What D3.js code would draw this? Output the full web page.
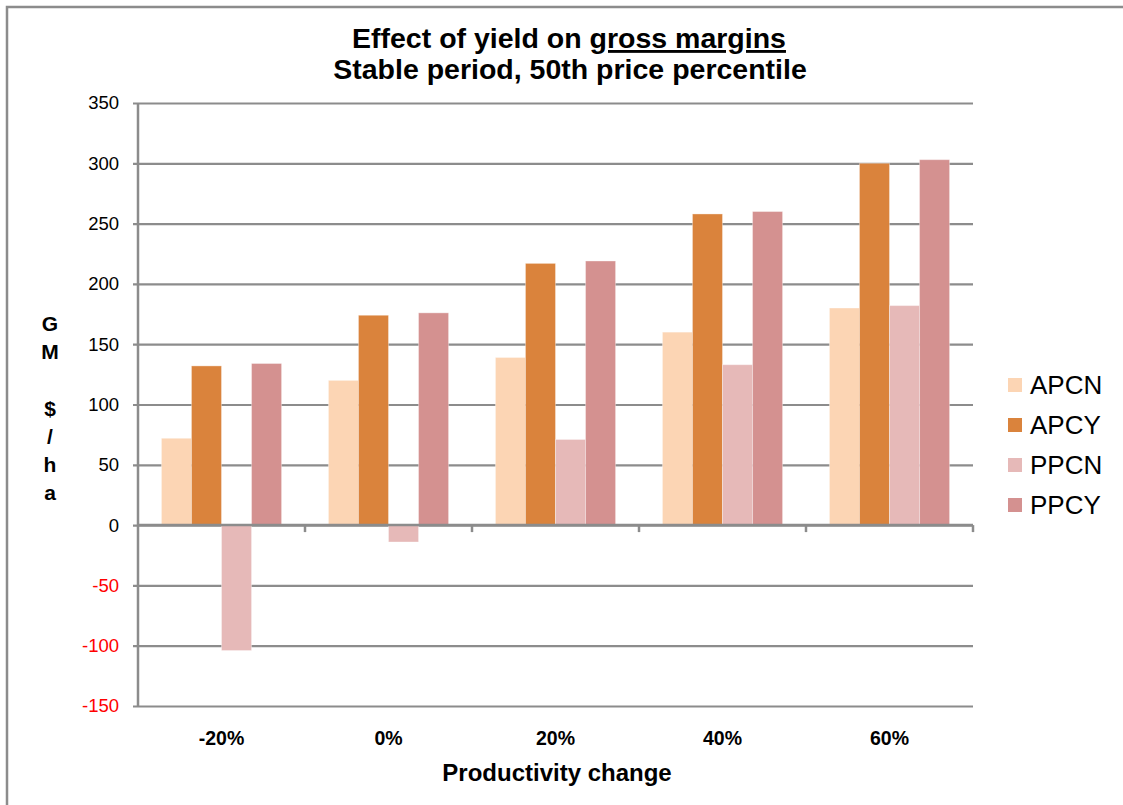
<!DOCTYPE html>
<html>
<head>
<meta charset="utf-8">
<script src="https://cdn.jsdelivr.net/npm/d3@7"></script>
<style>
  html, body { margin: 0; padding: 0; background: #fff; }
  svg { display: block; font-family: Arial, "Liberation Sans", Helvetica, sans-serif; }
</style>
</head>
<body>
<svg id="chart" width="1123" height="805"></svg>
<script>
// Gross margin ($/ha) by productivity change, four scenarios
const categories = ["-20%", "0%", "20%", "40%", "60%"];
const seriesNames = ["APCN", "APCY", "PPCN", "PPCY"];
const APCN = [72, 120, 139, 160, 180];
const APCY = [132, 174, 217, 258, 300];
const PPCN = [-104, -14, 71, 133, 182];
const PPCY = [134, 176, 219, 260, 303];
const yTicks = [-150, -100, -50, 0, 50, 100, 150, 200, 250, 300, 350];
const colors = ["#FCD5B4", "#DA833C", "#E6B9B8", "#D49190"];

const values = [APCN, APCY, PPCN, PPCY];
const rows = categories.map((c, i) => ({
  cat: c,
  vals: seriesNames.map((s, j) => ({ series: s, value: values[j][i] }))
}));

const svg = d3.select("#chart");
const plot = { left: 138, right: 973, top: 103, bottom: 706 };
const gridColor = "#8c8c8c";

// Outer frame
svg.append("path")
  .attr("d", "M7,806 L7,7 L1124,7")
  .attr("fill", "none").attr("stroke", gridColor).attr("stroke-width", 2.5);

const y = d3.scaleLinear().domain([-150, 350]).range([plot.bottom, plot.top]);
const x0 = d3.scaleBand().domain(categories).range([plot.left, plot.right]);
const x1 = d3.scaleBand().domain(seriesNames).range([0, x0.bandwidth()]).paddingOuter(0.78);
const color = d3.scaleOrdinal().domain(seriesNames).range(colors);

// Horizontal gridlines with left tick marks
const yAxis = d3.axisLeft(y)
  .tickValues(yTicks)
  .tickFormat(d => String(d))
  .tickSize(-(plot.right - plot.left + 5))
  .tickSizeOuter(0)
  .tickPadding(14);
const gy = svg.append("g").attr("transform", `translate(${plot.left - 5},0)`).call(yAxis);
gy.select(".domain").remove();
gy.selectAll(".tick line").attr("stroke", gridColor).attr("stroke-width", 2.2);
gy.selectAll(".tick text")
  .attr("font-size", 18.5)
  .attr("fill", d => d < 0 ? "#ff0000" : "#000");

// Vertical axis line
svg.append("line")
  .attr("x1", plot.left).attr("x2", plot.left)
  .attr("y1", plot.top).attr("y2", plot.bottom)
  .attr("stroke", gridColor).attr("stroke-width", 2.5);

// Bars
const groups = svg.append("g").selectAll("g").data(rows).join("g")
  .attr("transform", d => `translate(${x0(d.cat)},0)`);
groups.selectAll("rect").data(d => d.vals).join("rect")
  .attr("x", d => x1(d.series))
  .attr("width", x1.bandwidth())
  .attr("y", d => y(Math.max(0, d.value)))
  .attr("height", d => Math.abs(y(d.value) - y(0)))
  .attr("fill", d => color(d.series))
  .attr("stroke", "rgba(255,255,255,0.35)")
  .attr("stroke-width", 1);

// Zero axis with category separators
svg.append("line")
  .attr("x1", plot.left).attr("x2", plot.right)
  .attr("y1", y(0)).attr("y2", y(0))
  .attr("stroke", gridColor).attr("stroke-width", 2.5);
svg.append("g").selectAll("line")
  .data(categories.map(c => x0(c) + x0.bandwidth()))
  .join("line")
  .attr("x1", d => d).attr("x2", d => d)
  .attr("y1", y(0)).attr("y2", y(0) + 7)
  .attr("stroke", gridColor).attr("stroke-width", 2.5);

// Category labels below the plot
svg.append("g").selectAll("text").data(categories).join("text")
  .attr("x", d => x0(d) + x0.bandwidth() / 2)
  .attr("y", 745)
  .attr("text-anchor", "middle")
  .attr("font-size", 19.5)
  .attr("font-weight", "bold")
  .text(d => d);

svg.append("text")
  .attr("x", 557).attr("y", 781)
  .attr("text-anchor", "middle")
  .attr("font-size", 24)
  .attr("font-weight", "bold")
  .text("Productivity change");

// Stacked vertical axis title
const yTitle = ["G", "M", "", "$", "/", "h", "a"];
svg.append("g").selectAll("text").data(yTitle).join("text")
  .attr("x", 50)
  .attr("y", (d, i) => 331 + i * 28.2)
  .attr("text-anchor", "middle")
  .attr("font-size", 21)
  .attr("font-weight", "bold")
  .text(d => d);

// Title
const title = svg.append("text")
  .attr("x", 569).attr("y", 48)
  .attr("text-anchor", "middle")
  .attr("font-size", 28.5)
  .attr("font-weight", "bold");
title.append("tspan").text("Effect of yield on ");
title.append("tspan").attr("text-decoration", "underline").text("gross margins");
svg.append("text")
  .attr("x", 570).attr("y", 79)
  .attr("text-anchor", "middle")
  .attr("font-size", 28.5)
  .attr("font-weight", "bold")
  .text("Stable period, 50th price percentile");

// Legend
const legend = svg.append("g").selectAll("g").data(seriesNames).join("g")
  .attr("transform", (d, i) => `translate(1008,${385 + i * 40})`);
legend.append("rect")
  .attr("x", 0).attr("y", -7).attr("width", 14).attr("height", 14)
  .attr("fill", d => color(d));
legend.append("text")
  .attr("x", 22).attr("y", 9)
  .attr("font-size", 26)
  .text(d => d);
</script>
</body>
</html>
